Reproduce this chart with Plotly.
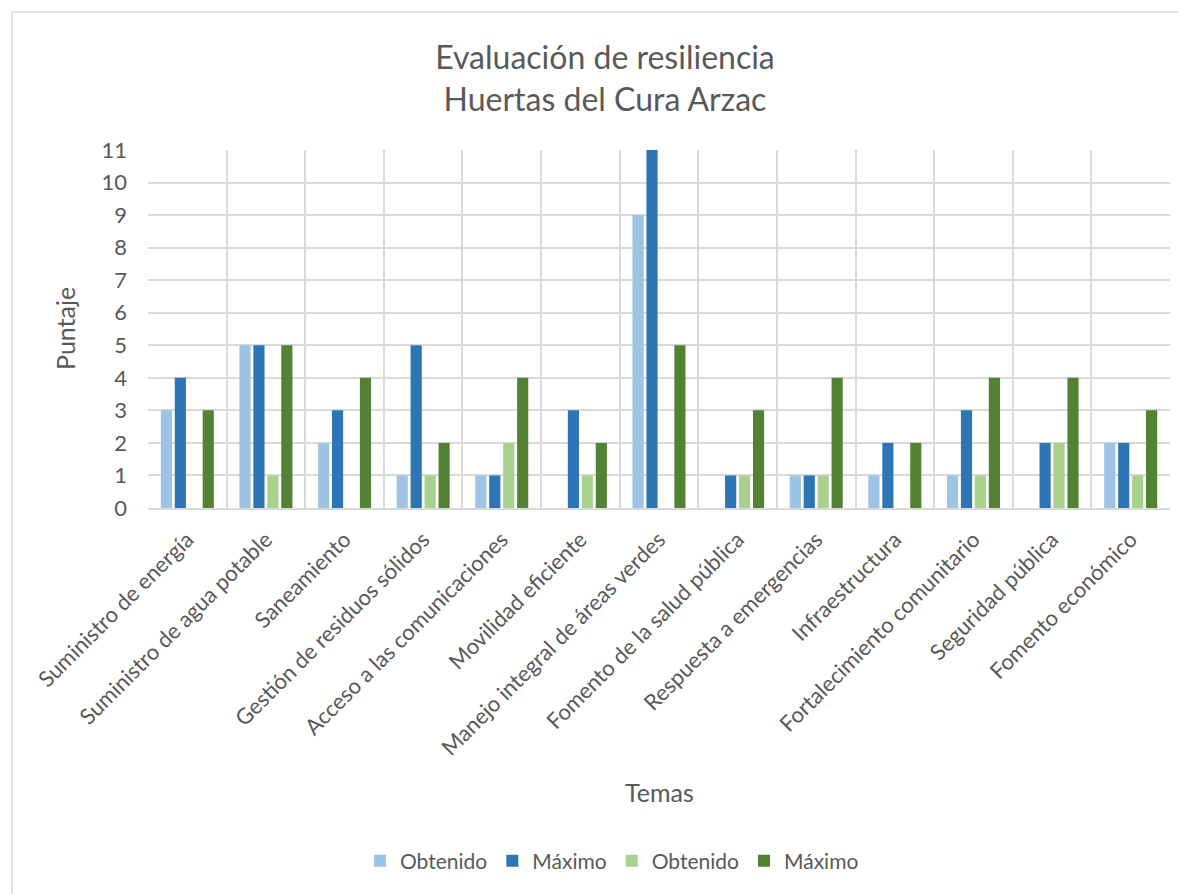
import plotly.graph_objects as go

categories = [
    "Suministro de energía", "Suministro de agua potable", "Saneamiento",
    "Gestión de residuos sólidos", "Acceso a las comunicaciones", "Movilidad eficiente",
    "Manejo integral de áreas verdes", "Fomento de la salud pública",
    "Respuesta a emergencias", "Infraestructura", "Fortalecimiento comunitario",
    "Seguridad pública", "Fomento económico",
]
obtenido_1 = [3, 5, 2, 1, 1, 0, 9, 0, 1, 1, 1, 0, 2]
maximo_1 = [4, 5, 3, 5, 1, 3, 11, 1, 1, 2, 3, 2, 2]
obtenido_2 = [0, 1, 0, 1, 2, 1, 0, 1, 1, 0, 1, 2, 1]
maximo_2 = [3, 5, 4, 2, 4, 2, 5, 3, 4, 2, 4, 4, 3]
series_names = ["Obtenido", "Máximo", "Obtenido", "Máximo"]
series_colors = ["#9DC3E6", "#2E75B6", "#A9D18E", "#548235"]
y_ticks = list(range(0, 12))

FONT = "Lato"
GREY = "#595959"
GRID = "#D9D9D9"

W, H = 1178, 886
L, R, T, B = 140, 16, 142, 386
PW = W - L - R
PH = H - T - B
BOTTOM = H - B  # pixel y of plot bottom

x_idx = list(range(len(categories)))
fig = go.Figure()
for name, vals, col in zip(series_names, [obtenido_1, maximo_1, obtenido_2, maximo_2], series_colors):
    fig.add_trace(go.Bar(x=x_idx, y=vals, name=name, marker=dict(color=col, line=dict(width=0))))

fig.update_layout(
    width=W, height=H,
    paper_bgcolor="white", plot_bgcolor="white",
    margin=dict(l=L, r=R, t=T, b=B),
    barmode="group", bargap=0.29, bargroupgap=0.2,
    font=dict(family=FONT, color=GREY, size=21),
    title=dict(
        text="Evaluación de resiliencia<br>Huertas del Cura Arzac",
        x=597 / W, xref="container", xanchor="center",
        y=1 - 61 / H, yref="container", yanchor="middle",
        font=dict(family=FONT, size=32, color=GREY),
    ),
    legend=dict(
        orientation="h", xref="container", x=604 / W, xanchor="center",
        yref="container", y=1 - 853 / H, yanchor="middle",
        font=dict(size=21, color=GREY), traceorder="normal",
        itemwidth=30,
    ),
    showlegend=True,
)
fig.update_xaxes(
    tickmode="array", tickvals=x_idx, ticktext=categories,
    range=[-0.5, len(categories) - 0.5],
    tickangle=-45, ticks="", ticklabelstandoff=8,
    showgrid=False, showline=True, linecolor=GRID, linewidth=2,
    zeroline=False, fixedrange=True,
    minor=dict(tickvals=[i - 0.5 for i in range(len(categories) + 1)], showgrid=True,
               gridcolor=GRID, gridwidth=2, ticks=""),
    tickfont=dict(size=22, color=GREY),
)
fig.update_yaxes(
    range=[0, 11], tickmode="array", tickvals=y_ticks,
    showgrid=True, gridcolor=GRID, gridwidth=2,
    zeroline=False, showline=False, ticks="", ticklabelstandoff=20,
    tickfont=dict(size=22, color=GREY),
)
fig.add_annotation(text="Puntaje", xref="paper", yref="paper",
                   x=(57 - L) / PW, y=0.5, textangle=-90, showarrow=False,
                   font=dict(size=25, color=GREY), xanchor="center", yanchor="middle")
fig.add_annotation(text="Temas", xref="paper", yref="paper",
                   x=0.5, y=(BOTTOM - 784) / PH, showarrow=False,
                   font=dict(size=25, color=GREY), xanchor="center", yanchor="middle")
# chart outer border
fig.add_shape(type="rect", xref="paper", yref="paper",
              x0=(4 - L) / PW, x1=(W + 20 - L) / PW,
              y0=(BOTTOM - (H + 20)) / PH, y1=(BOTTOM - 4) / PH,
              line=dict(color=GRID, width=1.5), fillcolor="rgba(0,0,0,0)", layer="below")

fig.write_html("out.html")
